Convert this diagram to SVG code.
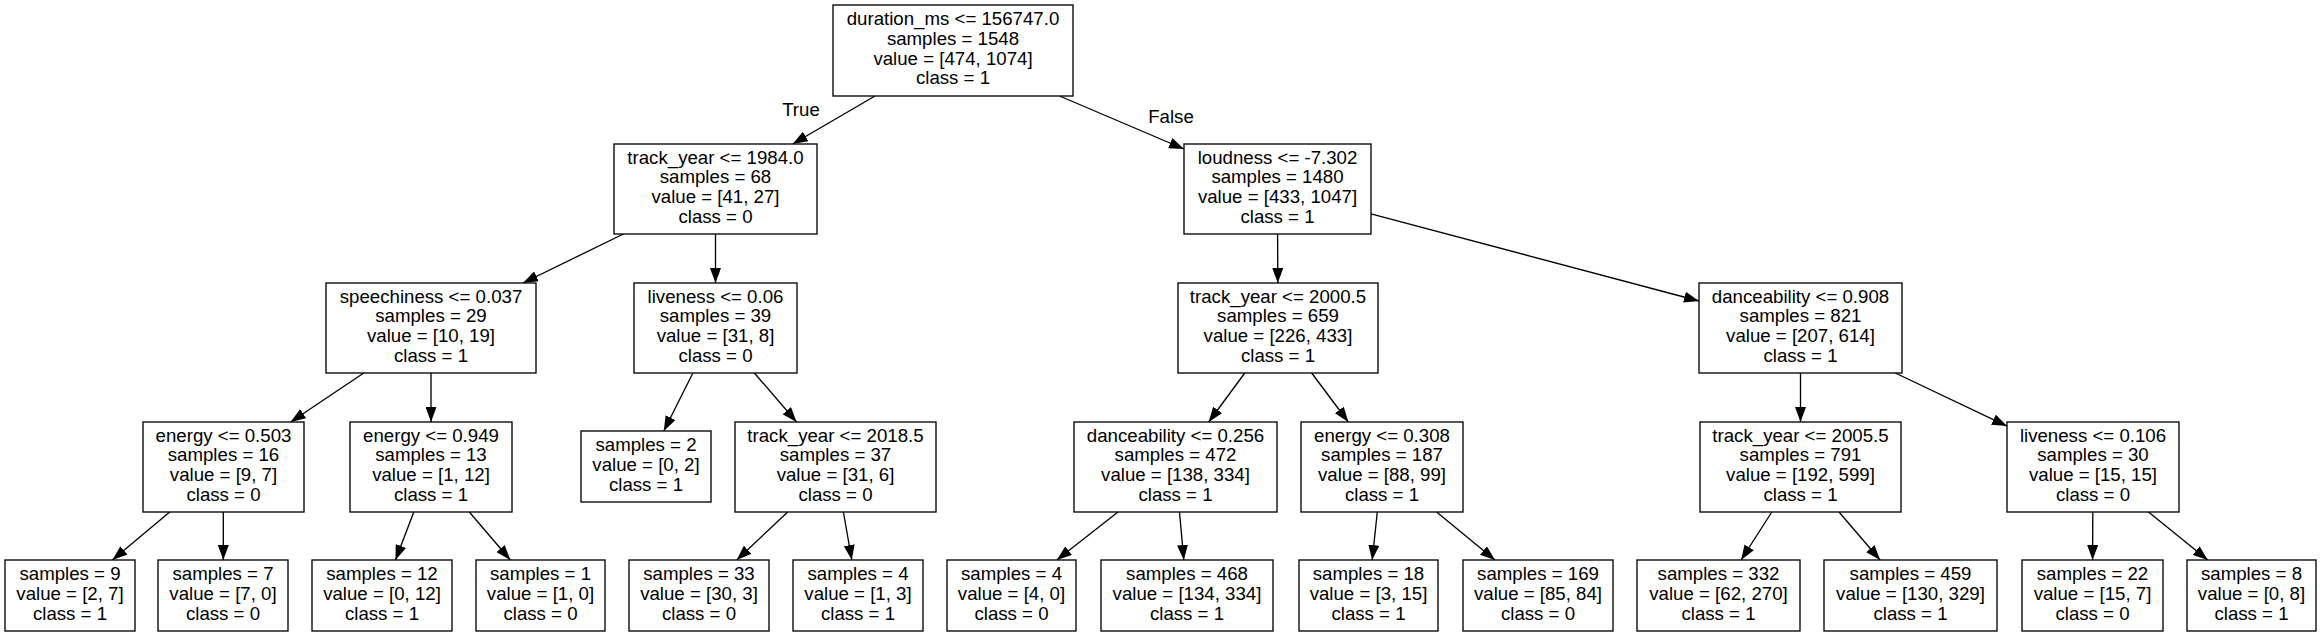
<svg xmlns="http://www.w3.org/2000/svg" width="2321" height="636" viewBox="0 0 2321 636">
<style>
rect.n{fill:#fff;stroke:#000;stroke-width:1.33}
text{font-family:"Liberation Sans",Arial,Helvetica,sans-serif;font-size:18.67px;fill:#000;text-anchor:middle}
line.e{stroke:#000;stroke-width:1.33;marker-end:url(#ah)}
</style>
<defs>
<marker id="ah" markerUnits="userSpaceOnUse" markerWidth="15" markerHeight="11" viewBox="0 0 15 11" refX="15" refY="5.5" orient="auto">
<path d="M0,0 L15,5.5 L0,11 Z" fill="#000"/>
</marker>
</defs>
<rect width="2321" height="636" fill="#fff"/>
<g id="connectors">
<line class="e" x1="875" y1="96" x2="792.7" y2="144"/>
<line class="e" x1="1059.6" y1="96" x2="1184" y2="149"/>
<line class="e" x1="623.4" y1="234" x2="523" y2="283"/>
<line class="e" x1="715.5" y1="234" x2="715.5" y2="283"/>
<line class="e" x1="363.8" y1="373" x2="290.7" y2="422"/>
<line class="e" x1="431" y1="373" x2="431" y2="422"/>
<line class="e" x1="692.9" y1="373" x2="663.8" y2="431"/>
<line class="e" x1="754.4" y1="373" x2="796.6" y2="422"/>
<line class="e" x1="169.7" y1="512" x2="112.4" y2="560"/>
<line class="e" x1="223.3" y1="512" x2="223.3" y2="560"/>
<line class="e" x1="413.8" y1="512" x2="395.5" y2="560"/>
<line class="e" x1="469.3" y1="512" x2="510.3" y2="560"/>
<line class="e" x1="787.7" y1="512" x2="736.7" y2="560"/>
<line class="e" x1="843.4" y1="512" x2="851.8" y2="560"/>
<line class="e" x1="1277.6" y1="234" x2="1277.8" y2="283"/>
<line class="e" x1="1371" y1="213.9" x2="1699" y2="301"/>
<line class="e" x1="1244.8" y1="373" x2="1208.7" y2="422"/>
<line class="e" x1="1311.7" y1="373" x2="1348.3" y2="422"/>
<line class="e" x1="1118" y1="512" x2="1056.8" y2="560"/>
<line class="e" x1="1179.5" y1="512" x2="1183.8" y2="560"/>
<line class="e" x1="1377.3" y1="512" x2="1372.2" y2="560"/>
<line class="e" x1="1436.6" y1="512" x2="1495" y2="560"/>
<line class="e" x1="1800.5" y1="373" x2="1800.5" y2="422"/>
<line class="e" x1="1895.3" y1="373" x2="2007" y2="426.1"/>
<line class="e" x1="1771.8" y1="512" x2="1741.1" y2="560"/>
<line class="e" x1="1839" y1="512" x2="1880.1" y2="560"/>
<line class="e" x1="2092.8" y1="512" x2="2092.6" y2="560"/>
<line class="e" x1="2148.5" y1="512" x2="2207.8" y2="560"/>
<text x="801" y="116">True</text>
<text x="1171" y="123">False</text>
</g>
<g id="n0"><rect class="n" x="833" y="5" width="240" height="91"/><text x="953" y="25"><tspan x="953">duration_ms &lt;= 156747.0</tspan><tspan x="953" dy="19.8">samples = 1548</tspan><tspan x="953" dy="19.8">value = [474, 1074]</tspan><tspan x="953" dy="19.8">class = 1</tspan></text></g>
<g id="n1"><rect class="n" x="614" y="144" width="203" height="90"/><text x="715.5" y="163.5"><tspan x="715.5">track_year &lt;= 1984.0</tspan><tspan x="715.5" dy="19.8">samples = 68</tspan><tspan x="715.5" dy="19.8">value = [41, 27]</tspan><tspan x="715.5" dy="19.8">class = 0</tspan></text></g>
<g id="n16"><rect class="n" x="1184" y="144" width="187" height="90"/><text x="1277.5" y="163.5"><tspan x="1277.5">loudness &lt;= -7.302</tspan><tspan x="1277.5" dy="19.8">samples = 1480</tspan><tspan x="1277.5" dy="19.8">value = [433, 1047]</tspan><tspan x="1277.5" dy="19.8">class = 1</tspan></text></g>
<g id="n2"><rect class="n" x="326" y="283" width="210" height="90"/><text x="431" y="302.5"><tspan x="431">speechiness &lt;= 0.037</tspan><tspan x="431" dy="19.8">samples = 29</tspan><tspan x="431" dy="19.8">value = [10, 19]</tspan><tspan x="431" dy="19.8">class = 1</tspan></text></g>
<g id="n9"><rect class="n" x="634" y="283" width="163" height="90"/><text x="715.5" y="302.5"><tspan x="715.5">liveness &lt;= 0.06</tspan><tspan x="715.5" dy="19.8">samples = 39</tspan><tspan x="715.5" dy="19.8">value = [31, 8]</tspan><tspan x="715.5" dy="19.8">class = 0</tspan></text></g>
<g id="n17"><rect class="n" x="1178" y="283" width="200" height="90"/><text x="1278" y="302.5"><tspan x="1278">track_year &lt;= 2000.5</tspan><tspan x="1278" dy="19.8">samples = 659</tspan><tspan x="1278" dy="19.8">value = [226, 433]</tspan><tspan x="1278" dy="19.8">class = 1</tspan></text></g>
<g id="n24"><rect class="n" x="1699" y="283" width="203" height="90"/><text x="1800.5" y="302.5"><tspan x="1800.5">danceability &lt;= 0.908</tspan><tspan x="1800.5" dy="19.8">samples = 821</tspan><tspan x="1800.5" dy="19.8">value = [207, 614]</tspan><tspan x="1800.5" dy="19.8">class = 1</tspan></text></g>
<g id="n3"><rect class="n" x="143" y="422" width="161" height="90"/><text x="223.5" y="441.5"><tspan x="223.5">energy &lt;= 0.503</tspan><tspan x="223.5" dy="19.8">samples = 16</tspan><tspan x="223.5" dy="19.8">value = [9, 7]</tspan><tspan x="223.5" dy="19.8">class = 0</tspan></text></g>
<g id="n6"><rect class="n" x="350" y="422" width="162" height="90"/><text x="431" y="441.5"><tspan x="431">energy &lt;= 0.949</tspan><tspan x="431" dy="19.8">samples = 13</tspan><tspan x="431" dy="19.8">value = [1, 12]</tspan><tspan x="431" dy="19.8">class = 1</tspan></text></g>
<g id="n10"><rect class="n" x="581" y="431" width="130" height="71"/><text x="646" y="451.3"><tspan x="646">samples = 2</tspan><tspan x="646" dy="19.8">value = [0, 2]</tspan><tspan x="646" dy="19.8">class = 1</tspan></text></g>
<g id="n11"><rect class="n" x="735" y="422" width="201" height="90"/><text x="835.5" y="441.5"><tspan x="835.5">track_year &lt;= 2018.5</tspan><tspan x="835.5" dy="19.8">samples = 37</tspan><tspan x="835.5" dy="19.8">value = [31, 6]</tspan><tspan x="835.5" dy="19.8">class = 0</tspan></text></g>
<g id="n18"><rect class="n" x="1074" y="422" width="203" height="90"/><text x="1175.5" y="441.5"><tspan x="1175.5">danceability &lt;= 0.256</tspan><tspan x="1175.5" dy="19.8">samples = 472</tspan><tspan x="1175.5" dy="19.8">value = [138, 334]</tspan><tspan x="1175.5" dy="19.8">class = 1</tspan></text></g>
<g id="n21"><rect class="n" x="1301" y="422" width="162" height="90"/><text x="1382" y="441.5"><tspan x="1382">energy &lt;= 0.308</tspan><tspan x="1382" dy="19.8">samples = 187</tspan><tspan x="1382" dy="19.8">value = [88, 99]</tspan><tspan x="1382" dy="19.8">class = 1</tspan></text></g>
<g id="n25"><rect class="n" x="1700" y="422" width="201" height="90"/><text x="1800.5" y="441.5"><tspan x="1800.5">track_year &lt;= 2005.5</tspan><tspan x="1800.5" dy="19.8">samples = 791</tspan><tspan x="1800.5" dy="19.8">value = [192, 599]</tspan><tspan x="1800.5" dy="19.8">class = 1</tspan></text></g>
<g id="n28"><rect class="n" x="2007" y="422" width="172" height="90"/><text x="2093" y="441.5"><tspan x="2093">liveness &lt;= 0.106</tspan><tspan x="2093" dy="19.8">samples = 30</tspan><tspan x="2093" dy="19.8">value = [15, 15]</tspan><tspan x="2093" dy="19.8">class = 0</tspan></text></g>
<g id="n4"><rect class="n" x="5" y="560" width="130" height="71"/><text x="70" y="580.3"><tspan x="70">samples = 9</tspan><tspan x="70" dy="19.8">value = [2, 7]</tspan><tspan x="70" dy="19.8">class = 1</tspan></text></g>
<g id="n5"><rect class="n" x="158" y="560" width="130" height="71"/><text x="223" y="580.3"><tspan x="223">samples = 7</tspan><tspan x="223" dy="19.8">value = [7, 0]</tspan><tspan x="223" dy="19.8">class = 0</tspan></text></g>
<g id="n7"><rect class="n" x="312" y="560" width="140" height="71"/><text x="382" y="580.3"><tspan x="382">samples = 12</tspan><tspan x="382" dy="19.8">value = [0, 12]</tspan><tspan x="382" dy="19.8">class = 1</tspan></text></g>
<g id="n8"><rect class="n" x="476" y="560" width="129" height="71"/><text x="540.5" y="580.3"><tspan x="540.5">samples = 1</tspan><tspan x="540.5" dy="19.8">value = [1, 0]</tspan><tspan x="540.5" dy="19.8">class = 0</tspan></text></g>
<g id="n12"><rect class="n" x="629" y="560" width="140" height="71"/><text x="699" y="580.3"><tspan x="699">samples = 33</tspan><tspan x="699" dy="19.8">value = [30, 3]</tspan><tspan x="699" dy="19.8">class = 0</tspan></text></g>
<g id="n13"><rect class="n" x="793" y="560" width="130" height="71"/><text x="858" y="580.3"><tspan x="858">samples = 4</tspan><tspan x="858" dy="19.8">value = [1, 3]</tspan><tspan x="858" dy="19.8">class = 1</tspan></text></g>
<g id="n19"><rect class="n" x="947" y="560" width="129" height="71"/><text x="1011.5" y="580.3"><tspan x="1011.5">samples = 4</tspan><tspan x="1011.5" dy="19.8">value = [4, 0]</tspan><tspan x="1011.5" dy="19.8">class = 0</tspan></text></g>
<g id="n20"><rect class="n" x="1101" y="560" width="172" height="71"/><text x="1187" y="580.3"><tspan x="1187">samples = 468</tspan><tspan x="1187" dy="19.8">value = [134, 334]</tspan><tspan x="1187" dy="19.8">class = 1</tspan></text></g>
<g id="n22"><rect class="n" x="1299" y="560" width="139" height="71"/><text x="1368.5" y="580.3"><tspan x="1368.5">samples = 18</tspan><tspan x="1368.5" dy="19.8">value = [3, 15]</tspan><tspan x="1368.5" dy="19.8">class = 1</tspan></text></g>
<g id="n23"><rect class="n" x="1463" y="560" width="150" height="71"/><text x="1538" y="580.3"><tspan x="1538">samples = 169</tspan><tspan x="1538" dy="19.8">value = [85, 84]</tspan><tspan x="1538" dy="19.8">class = 0</tspan></text></g>
<g id="n26"><rect class="n" x="1637" y="560" width="163" height="71"/><text x="1718.5" y="580.3"><tspan x="1718.5">samples = 332</tspan><tspan x="1718.5" dy="19.8">value = [62, 270]</tspan><tspan x="1718.5" dy="19.8">class = 1</tspan></text></g>
<g id="n27"><rect class="n" x="1824" y="560" width="173" height="71"/><text x="1910.5" y="580.3"><tspan x="1910.5">samples = 459</tspan><tspan x="1910.5" dy="19.8">value = [130, 329]</tspan><tspan x="1910.5" dy="19.8">class = 1</tspan></text></g>
<g id="n29"><rect class="n" x="2022" y="560" width="141" height="71"/><text x="2092.5" y="580.3"><tspan x="2092.5">samples = 22</tspan><tspan x="2092.5" dy="19.8">value = [15, 7]</tspan><tspan x="2092.5" dy="19.8">class = 0</tspan></text></g>
<g id="n30"><rect class="n" x="2187" y="560" width="129" height="71"/><text x="2251.5" y="580.3"><tspan x="2251.5">samples = 8</tspan><tspan x="2251.5" dy="19.8">value = [0, 8]</tspan><tspan x="2251.5" dy="19.8">class = 1</tspan></text></g>
</svg>
